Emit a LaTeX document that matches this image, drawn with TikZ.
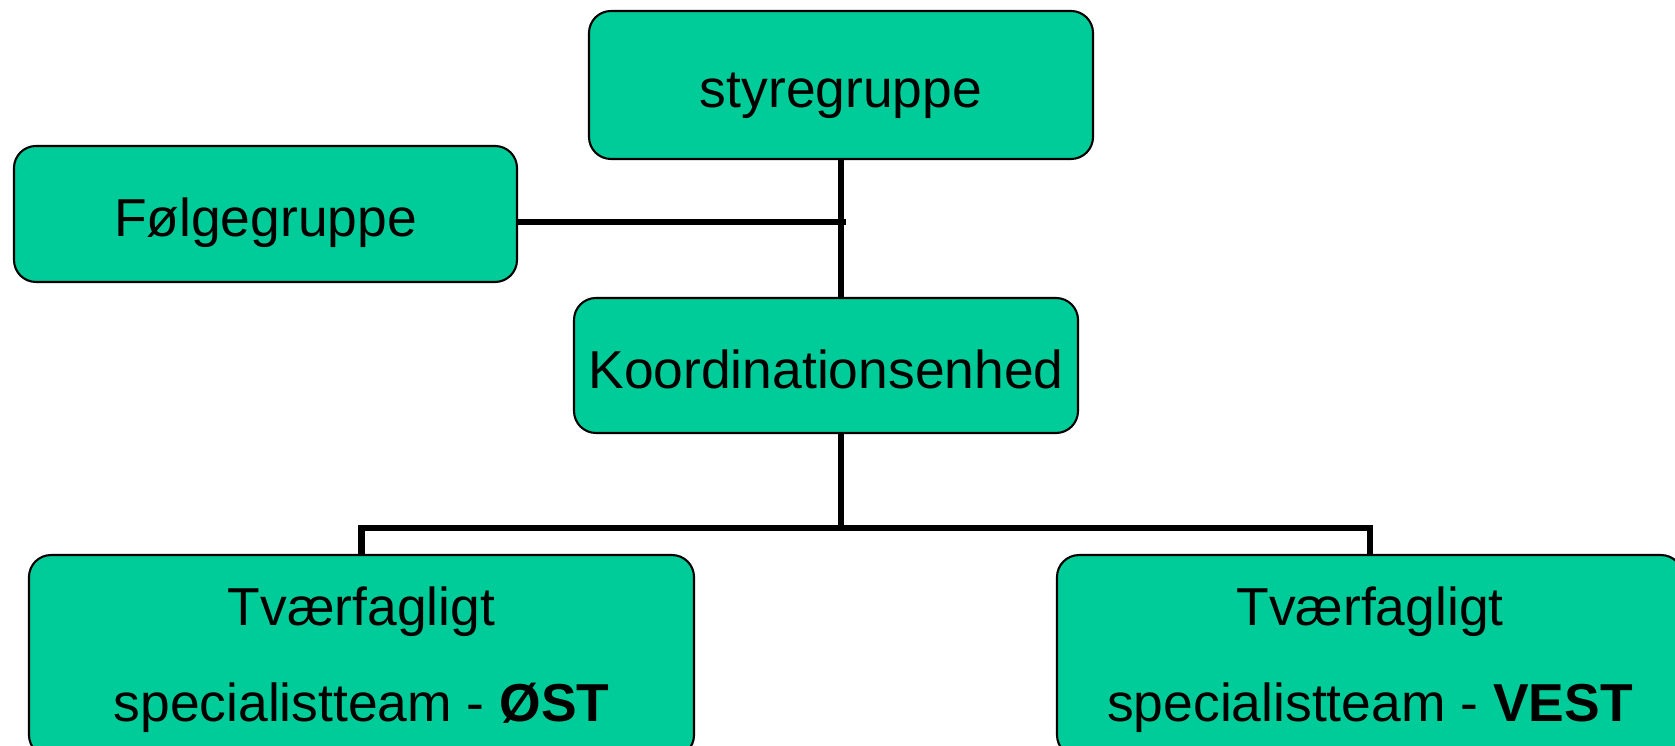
\documentclass[tikz,border=0pt]{standalone}
\usepackage{fontspec}
\setmainfont{Liberation Sans}
\usepackage{tikz}
\usetikzlibrary{calc}
\definecolor{teamgreen}{RGB}{0,204,153}
\tikzset{
    box/.style={draw=black, line width=0.6pt, fill=teamgreen, rounded corners=0.22cm,
        inner sep=0pt, align=center, font=\fontsize{15.2}{27.3}\selectfont},
    onebox/.style={box, text height=13pt, text depth=0pt},
    twobox/.style={box, anchor=north, text depth=1pt},
    link/.style={line width=1.8pt}
}

\begin{document}
\begin{tikzpicture}
        \useasboundingbox (0,0) rectangle (16.75,-7.46);
        \clip (0,0) rectangle (16.75,-7.46);
        % top line
        \node[onebox, minimum width=5.04cm, minimum height=1.48cm] (styre) at (8.41,-0.85) {styregruppe};
        \node[onebox, minimum width=5.03cm, minimum height=1.36cm] (folge) at (2.655,-2.14) {Følgegruppe};
        \node[onebox, minimum width=5.04cm, minimum height=1.35cm] (koord) at (8.26,-3.655) {Koordinationsenhed};
        % bottom line
        \node[twobox, minimum width=6.65cm, minimum height=2.02cm] (ost) at (3.615,-5.54)
            {Tværfagligt\\specialistteam - \textbf{ØST}};
        \node[twobox, minimum width=6.26cm, minimum height=2.02cm] (vest) at (13.70,-5.54)
            {Tværfagligt\\specialistteam - \textbf{VEST}};

        \coordinate (fjoin) at (8.46,-2.22);
        \coordinate (split) at (8.41,-5.28);
        \draw[link] (styre.south) -- (styre.south |- koord.north);
        \draw[link] (folge.east |- fjoin) -- (fjoin);
        \draw[link] (styre.south |- koord.south) -- (split);
        \draw[link] (ost.north) |- (split) -| (vest.north);
    \end{tikzpicture}
\end{document}
